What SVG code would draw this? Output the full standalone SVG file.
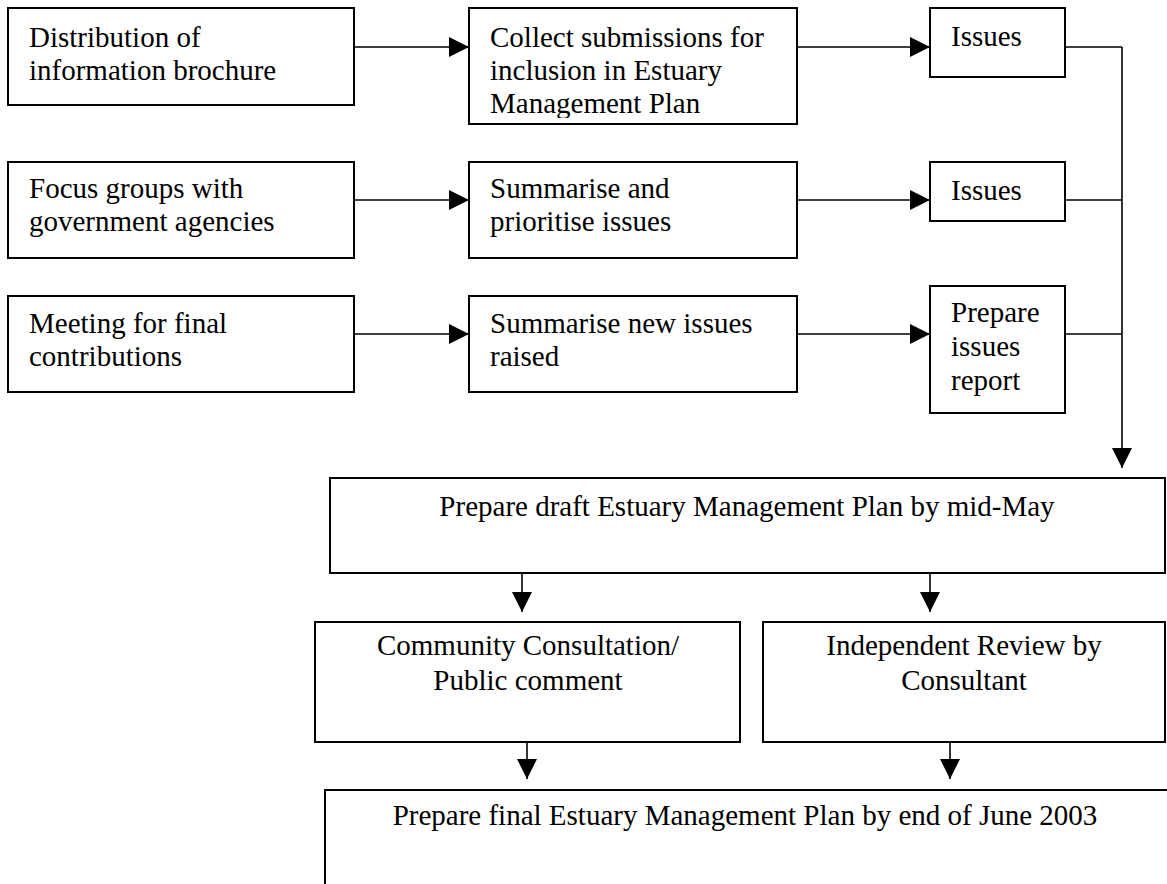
<svg xmlns="http://www.w3.org/2000/svg" width="1167" height="884" viewBox="0 0 1167 884">
<style>
.box{fill:#fff;stroke:#000;stroke-width:2}
.ln{fill:none;stroke:#000;stroke-width:1.6}
text{font-family:"Liberation Serif","Times New Roman",serif;font-size:29px;fill:#000}
.c{text-anchor:middle}
</style>
<defs>
<marker id="ah" markerUnits="userSpaceOnUse" markerWidth="20" markerHeight="20" refX="20" refY="10" orient="auto">
<path d="M0,0 L20,10 L0,20 z" fill="#000"/>
</marker>
<clipPath id="clip2"><rect x="469" y="8" width="328" height="110"/></clipPath>
</defs>
<g id="connectors">
<path class="ln" d="M354,47 H469" marker-end="url(#ah)"/>
<path class="ln" d="M797,47 H930" marker-end="url(#ah)"/>
<path class="ln" d="M354,200 H469" marker-end="url(#ah)"/>
<path class="ln" d="M797,200 H930" marker-end="url(#ah)"/>
<path class="ln" d="M354,334 H469" marker-end="url(#ah)"/>
<path class="ln" d="M797,334 H930" marker-end="url(#ah)"/>
<path class="ln" d="M1065,47 H1122"/>
<path class="ln" d="M1065,200 H1122"/>
<path class="ln" d="M1065,334 H1122"/>
<path class="ln" d="M1122,47 V468" marker-end="url(#ah)"/>
<path class="ln" d="M522,574 V612" marker-end="url(#ah)"/>
<path class="ln" d="M930,574 V612" marker-end="url(#ah)"/>
<path class="ln" d="M527,742 V779" marker-end="url(#ah)"/>
<path class="ln" d="M950,742 V779" marker-end="url(#ah)"/>
</g>
<g id="n1"><rect class="box" x="8" y="8" width="346" height="97"/>
<text x="29" y="47">Distribution of</text><text x="29" y="80">information brochure</text></g>
<g id="n2"><rect class="box" x="469" y="8" width="328" height="116"/>
<g clip-path="url(#clip2)"><text x="490" y="47">Collect submissions for</text><text x="490" y="80">inclusion in Estuary</text><text x="490" y="113">Management Plan</text></g></g>
<g id="n3"><rect class="box" x="930" y="8" width="135" height="69"/>
<text x="951" y="46">Issues</text></g>
<g id="n4"><rect class="box" x="8" y="162" width="346" height="96"/>
<text x="29" y="198">Focus groups with</text><text x="29" y="231">government agencies</text></g>
<g id="n5"><rect class="box" x="469" y="162" width="328" height="96"/>
<text x="490" y="198">Summarise and</text><text x="490" y="231">prioritise issues</text></g>
<g id="n6"><rect class="box" x="930" y="162" width="135" height="59"/>
<text x="951" y="200">Issues</text></g>
<g id="n7"><rect class="box" x="8" y="296" width="346" height="96"/>
<text x="29" y="333">Meeting for final</text><text x="29" y="366">contributions</text></g>
<g id="n8"><rect class="box" x="469" y="296" width="328" height="96"/>
<text x="490" y="333">Summarise new issues</text><text x="490" y="366">raised</text></g>
<g id="n9"><rect class="box" x="930" y="286" width="135" height="127"/>
<text x="951" y="322">Prepare</text><text x="951" y="356">issues</text><text x="951" y="390">report</text></g>
<g id="n10"><rect class="box" x="330" y="478" width="835" height="95"/>
<text class="c" x="747" y="516">Prepare draft Estuary Management Plan by mid-May</text></g>
<g id="n11"><rect class="box" x="315" y="622" width="425" height="120"/>
<text class="c" x="528" y="655">Community Consultation/</text><text class="c" x="528" y="690">Public comment</text></g>
<g id="n12"><rect class="box" x="763" y="622" width="402" height="120"/>
<text class="c" x="964" y="655">Independent Review by</text><text class="c" x="964" y="690">Consultant</text></g>
<g id="n13"><rect class="box" x="325" y="790" width="850" height="110"/>
<text class="c" x="745" y="825">Prepare final Estuary Management Plan by end of June 2003</text></g>
</svg>
